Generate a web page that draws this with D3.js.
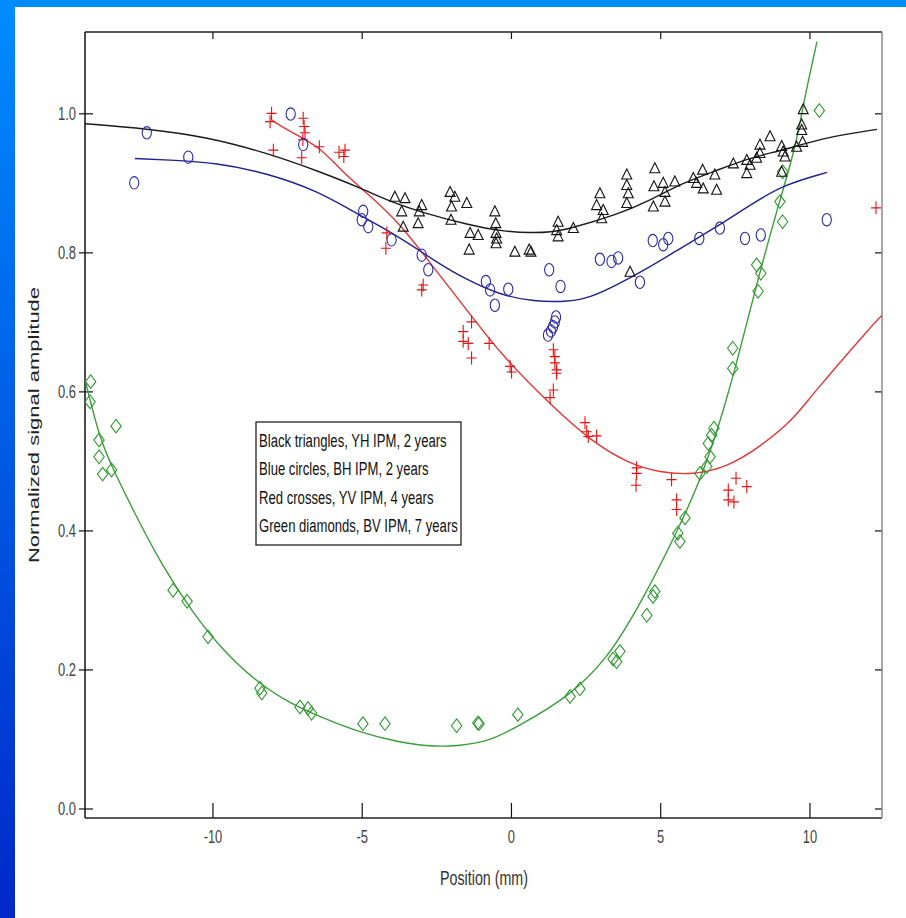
<!DOCTYPE html>
<html>
<head>
<meta charset="utf-8">
<script src="https://cdn.jsdelivr.net/npm/d3@7/dist/d3.min.js"></script>
<style>
body { margin: 0; background: #fff; }
svg { display: block; }
</style>
</head>
<body>
<svg id="chart" width="906" height="918"></svg>
<script>
// axis ticks
var xTicks = [-10, -5, 0, 5, 10];
var yTicks = [0.0, 0.2, 0.4, 0.6, 0.8, 1.0];

// Black triangles, YH IPM, 2 years
var blackTriangles = [
	[-3.89,0.880],[-3.55,0.878],[-3.66,0.859],[-3.61,0.837],[-2.99,0.868],[-3.07,0.859],[-3.11,0.842],
	[-2.04,0.887],[-1.88,0.880],[-1.99,0.866],[-2.01,0.847],[-1.48,0.871],[-1.37,0.828],[-1.10,0.825],
	[-1.40,0.804],[-0.54,0.859],[-0.51,0.842],[-0.50,0.828],[-0.48,0.820],[-0.50,0.813],[0.13,0.801],
	[0.61,0.804],[0.67,0.801],[1.58,0.844],[1.53,0.832],[1.58,0.823],[2.09,0.835],[2.98,0.885],
	[2.87,0.868],[3.09,0.861],[3.04,0.849],[3.88,0.912],[3.88,0.897],[3.93,0.885],[3.88,0.871],
	[4.82,0.921],[4.79,0.895],[5.10,0.900],[5.16,0.887],[4.77,0.866],[5.16,0.873],[5.49,0.902],
	[6.11,0.907],[6.22,0.900],[6.42,0.919],[6.44,0.892],[6.83,0.912],[6.89,0.890],[7.45,0.928],
	[7.90,0.933],[8.01,0.926],[7.90,0.914],[8.23,0.936],[8.34,0.943],[8.34,0.955],[8.68,0.967],
	[9.07,0.953],[9.12,0.945],[9.18,0.938],[9.07,0.916],[9.74,0.976],[9.79,1.006],[9.74,0.984],
	[9.57,0.952],[9.77,0.959],[3.99,0.772]
];
var blackFit = [
	[-14.27,0.985],[-12.19,0.978],[-10.18,0.966],[-8.17,0.943],[-6.40,0.916],[-5.06,0.893],[-4.05,0.873],
	[-2.95,0.857],[-1.47,0.840],[-0.27,0.830],[0.74,0.828],[1.31,0.829],[1.98,0.834],[3.55,0.854],
	[4.66,0.875],[5.76,0.900],[6.90,0.918],[8.01,0.936],[9.11,0.947],[10.59,0.966],[12.26,0.977]
];

// Blue circles, BH IPM, 2 years
var blueCircles = [
	[-12.62,0.900],[-12.20,0.972],[-10.81,0.937],[-7.38,0.999],[-6.96,0.955],[-4.95,0.859],[-5.00,0.847],
	[-4.78,0.837],[-4.00,0.818],[-2.99,0.796],[-2.77,0.775],[-0.84,0.758],[-0.70,0.746],[-0.54,0.724],
	[-0.09,0.747],[1.28,0.775],[1.66,0.751],[1.51,0.707],[1.47,0.700],[1.41,0.693],[1.34,0.687],
	[1.24,0.681],[2.98,0.790],[3.37,0.787],[3.59,0.792],[4.32,0.757],[4.75,0.817],[5.10,0.811],
	[5.27,0.820],[6.31,0.820],[7.00,0.835],[7.84,0.820],[8.37,0.825],[10.58,0.847]
];
var blueFit = [
	[-12.60,0.935],[-11.52,0.933],[-9.85,0.929],[-8.17,0.914],[-6.40,0.887],[-5.39,0.861],[-3.72,0.822],
	[-2.61,0.789],[-1.47,0.760],[-0.37,0.739],[0.74,0.729],[1.98,0.729],[2.65,0.735],[3.55,0.753],
	[4.66,0.779],[5.76,0.808],[6.90,0.837],[8.01,0.868],[9.11,0.897],[10.59,0.915]
];

// Red crosses, YV IPM, 4 years
var redCrosses = [
	[-8.02,1.000],[-8.07,0.988],[-7.96,0.947],[-6.96,0.993],[-6.93,0.981],[-6.90,0.972],[-6.97,0.962],
	[-7.01,0.936],[-6.42,0.952],[-5.76,0.944],[-5.56,0.947],[-5.60,0.938],[-4.16,0.828],[-4.19,0.806],
	[-2.99,0.746],[-2.94,0.753],[-1.32,0.700],[-1.60,0.686],[-1.60,0.672],[-1.43,0.669],[-0.73,0.669],
	[-1.32,0.648],[-0.03,0.636],[0.02,0.628],[1.42,0.660],[1.47,0.650],[1.47,0.641],[1.53,0.631],
	[1.53,0.626],[1.42,0.602],[1.31,0.591],[2.48,0.555],[2.54,0.542],[2.59,0.535],[2.87,0.536],
	[4.21,0.490],[4.21,0.482],[4.19,0.465],[5.38,0.473],[5.55,0.444],[5.55,0.430],[7.54,0.475],
	[7.28,0.458],[7.28,0.444],[7.47,0.441],[7.90,0.463],[12.23,0.864]
];
var redFit = [
	[-8.04,0.991],[-7.50,0.976],[-6.40,0.952],[-5.73,0.919],[-4.82,0.885],[-3.72,0.842],[-2.61,0.779],
	[-1.47,0.717],[-0.37,0.655],[1.07,0.592],[1.64,0.569],[2.65,0.530],[3.89,0.497],[5.00,0.483],
	[6.10,0.480],[7.24,0.491],[8.34,0.520],[9.45,0.559],[10.02,0.592],[12.26,0.703],[12.43,0.709]
];

// Green diamonds, BV IPM, 7 years
var greenDiamonds = [
	[-14.08,0.614],[-14.10,0.585],[-13.80,0.530],[-13.23,0.550],[-13.80,0.506],[-13.68,0.481],[-13.38,0.487],
	[-11.32,0.314],[-10.85,0.298],[-10.15,0.247],[-8.41,0.173],[-8.35,0.166],[-7.07,0.146],[-6.80,0.144],
	[-6.68,0.137],[-4.96,0.122],[-4.22,0.122],[-1.82,0.119],[-1.11,0.123],[-1.07,0.122],[0.23,0.135],
	[1.98,0.161],[2.31,0.172],[3.42,0.215],[3.54,0.211],[3.65,0.226],[4.55,0.278],[4.76,0.305],
	[4.82,0.312],[5.59,0.396],[5.66,0.384],[5.83,0.418],[6.33,0.482],[6.56,0.492],[6.67,0.506],
	[6.61,0.525],[6.72,0.537],[6.80,0.547],[7.43,0.662],[7.43,0.633],[8.23,0.782],[8.37,0.770],
	[8.28,0.744],[9.01,0.873],[9.10,0.916],[9.10,0.844],[10.33,1.004]
];
var greenFit = [
	[-14.27,0.617],[-13.77,0.530],[-13.27,0.483],[-12.66,0.429],[-11.66,0.347],[-10.65,0.281],[-9.75,0.232],
	[-8.51,0.181],[-7.30,0.149],[-6.40,0.132],[-5.06,0.109],[-3.72,0.095],[-2.71,0.089],[-1.71,0.090],
	[-0.70,0.097],[0.23,0.118],[1.88,0.159],[3.22,0.214],[4.32,0.293],[5.43,0.386],[6.33,0.470],
	[7.00,0.555],[7.54,0.637],[8.24,0.756],[8.91,0.861],[9.51,0.947],[9.78,1.009],[10.02,1.058],[10.25,1.103]
];

var legendLines = [
	"Black triangles, YH IPM, 2 years",
	"Blue circles, BH IPM, 2 years",
	"Red crosses, YV IPM, 4 years",
	"Green diamonds, BV IPM, 7 years"
];

var svg = d3.select("#chart");
// plot frame (named so they do not clash with window.top)
var plotL = 85, plotR = 882, plotT = 32, plotB = 818;
var squeeze = 0.68; // the slide was squashed sideways, text too

var x = d3.scaleLinear().domain([-14.27, 12.43]).range([plotL, plotR]);
var y = d3.scaleLinear().domain([-0.0137, 1.117]).range([plotB, plotT]);

// slide background with the blue edges
var defs = svg.append("defs");
var grad = defs.append("linearGradient").attr("id", "edge").attr("x1", 0).attr("y1", 0).attr("x2", 0).attr("y2", 1);
grad.append("stop").attr("offset", "0%").attr("stop-color", "#008cff");
grad.append("stop").attr("offset", "100%").attr("stop-color", "#0028c8");
svg.append("rect").attr("width", 906).attr("height", 918).attr("fill", "#fff");
svg.append("rect").attr("x", 0).attr("y", 0).attr("width", 906).attr("height", 7).attr("fill", "#008cff");
svg.append("rect").attr("x", 0).attr("y", 0).attr("width", 15).attr("height", 918).attr("fill", "url(#edge)");

defs.append("clipPath").attr("id", "plotclip").append("rect")
	.attr("x", plotL).attr("y", plotT).attr("width", plotR - plotL).attr("height", plotB - plotT);

var fontFam = "'Liberation Sans', Arial, sans-serif";

// axes
var xBottom = svg.append("g").attr("transform", "translate(0," + plotB + ")")
	.call(d3.axisBottom(x).tickValues(xTicks).tickSizeInner(-15).tickSizeOuter(0).tickFormat(function (d) { return d; }));
xBottom.selectAll("text").attr("y", 0).attr("dy", null)
	.attr("transform", "translate(0,25) scale(" + squeeze + ",1)")
	.style("font-size", "19px");

var xTop = svg.append("g").attr("transform", "translate(0," + plotT + ")")
	.call(d3.axisTop(x).tickValues(xTicks).tickSizeInner(-7).tickSizeOuter(0).tickFormat(""));

var yLeft = svg.append("g").attr("transform", "translate(" + plotL + ",0)")
	.call(d3.axisLeft(y).tickValues(yTicks).tickSizeInner(6).tickSizeOuter(0).tickFormat(d3.format(".1f")));
yLeft.selectAll(".tick line").attr("x1", 8);
yLeft.selectAll("text").attr("x", 0)
	.attr("transform", "translate(-9,0) scale(" + squeeze + ",1)")
	.style("font-size", "19px");

var yRight = svg.append("g").attr("transform", "translate(" + plotR + ",0)")
	.call(d3.axisRight(y).tickValues(yTicks).tickSizeInner(-7).tickSizeOuter(0).tickFormat(""));

[xBottom, xTop, yLeft, yRight].forEach(function (g) {
	g.select(".domain").remove();
	g.selectAll(".tick line").attr("stroke", "#111").attr("stroke-width", 1.2);
	g.selectAll("text").attr("fill", "#444").style("font-family", fontFam);
});

// frame
svg.append("line").attr("x1", plotL).attr("x2", plotR).attr("y1", plotT).attr("y2", plotT).attr("stroke", "#222").attr("stroke-width", 1.5);
svg.append("line").attr("x1", plotL).attr("x2", plotR).attr("y1", plotB).attr("y2", plotB).attr("stroke", "#222").attr("stroke-width", 1.5);
svg.append("line").attr("x1", plotL).attr("x2", plotL).attr("y1", plotT).attr("y2", plotB).attr("stroke", "#111").attr("stroke-width", 1.5);
svg.append("line").attr("x1", plotR).attr("x2", plotR).attr("y1", plotT).attr("y2", plotB).attr("stroke", "#888").attr("stroke-width", 1.5);

// axis titles
svg.append("text").text("Position (mm)")
	.attr("transform", "translate(484,885) scale(" + squeeze + ",1)")
	.attr("text-anchor", "middle").attr("fill", "#333")
	.style("font-family", fontFam).style("font-size", "21px");
svg.append("text").text("Normalized signal amplitude")
	.attr("transform", "translate(39,425) scale(" + squeeze + ",1) rotate(-90)")
	.attr("text-anchor", "middle").attr("fill", "#222")
	.style("font-family", fontFam).style("font-size", "22px");

var plot = svg.append("g").attr("clip-path", "url(#plotclip)");

// fitted curves
var line = d3.line()
	.x(function (d) { return x(d[0]); })
	.y(function (d) { return y(d[1]); })
	.curve(d3.curveBasis);
function drawFit(data, color) {
	plot.append("path").datum(data).attr("d", line)
		.attr("fill", "none").attr("stroke", color).attr("stroke-width", 1.4);
}
drawFit(greenFit, "#3a9e3a");
drawFit(redFit, "#e53535");
drawFit(blueFit, "#22228e");
drawFit(blackFit, "#1a1a1a");

// markers
function drawMarkers(data, color, pathFn) {
	plot.append("g").selectAll("path").data(data).enter().append("path")
		.attr("transform", function (d) { return "translate(" + x(d[0]) + "," + y(d[1]) + ")"; })
		.attr("d", pathFn)
		.attr("fill", "none").attr("stroke", color).attr("stroke-width", 1.1);
}
var trianglePath = "M0,-5.5L5,4.5L-5,4.5Z";
var diamondPath = "M0,-6.8L5.2,0L0,6.8L-5.2,0Z";
var crossPath = "M-5,0L5,0M0,-6.5L0,6.5";
var circlePath = "M-4.6,0A4.6,6.2 0 1,0 4.6,0A4.6,6.2 0 1,0 -4.6,0Z";
drawMarkers(greenDiamonds, "#2e9a2e", diamondPath);
drawMarkers(redCrosses, "#e81010", crossPath);
drawMarkers(blueCircles, "#2a2aa8", circlePath);
drawMarkers(blackTriangles, "#111", trianglePath);

// legend box
var legend = svg.append("g");
legend.append("rect").attr("x", 256).attr("y", 422).attr("width", 205).attr("height", 123)
	.attr("fill", "#fff").attr("stroke", "#222").attr("stroke-width", 1.3);
legend.selectAll("text").data(legendLines).enter().append("text")
	.text(function (d) { return d; })
	.attr("transform", function (d, i) { return "translate(259," + (447 + i * 28.4) + ") scale(0.69,1)"; })
	.attr("fill", "#111")
	.style("font-family", fontFam).style("font-size", "19px");
</script>
</body>
</html>
